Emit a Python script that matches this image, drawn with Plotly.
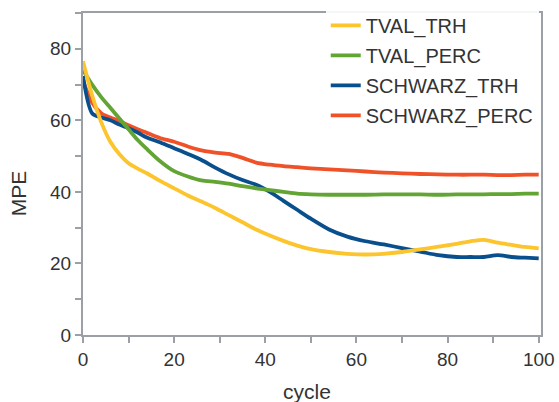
import plotly.graph_objects as go

cycle = [0, 2, 4, 6, 8, 10, 12, 14, 17, 20, 23, 26, 29, 32, 35, 38, 41, 44, 47, 50,
         54, 58, 62, 66, 70, 74, 78, 82, 85, 88, 91, 94, 97, 100]

tval_trh = [76.5, 67, 59.5, 54, 50.5, 48, 46.5, 45.2, 43, 41, 39, 37.3, 35.5, 33.5, 31.5,
            29.5, 27.8, 26.3, 25, 24, 23.2, 22.7, 22.5, 22.7, 23.2, 23.9, 24.7, 25.5,
            26.2, 26.6, 25.8, 25.2, 24.6, 24.2]
tval_perc = [74, 70, 66.5, 63.5, 60.5, 57.5, 54.5, 52, 48.5, 45.8, 44.3, 43.2, 42.8, 42.3,
             41.6, 41, 40.5, 40, 39.5, 39.3, 39.2, 39.2, 39.2, 39.3, 39.3, 39.3, 39.2,
             39.3, 39.3, 39.3, 39.4, 39.4, 39.5, 39.5]
schwarz_trh = [72.4, 62, 60.8, 60, 58.8, 57.8, 56.6, 55.2, 53.8, 52.2, 50.6, 48.9, 46.8,
               44.9, 43.3, 42, 40, 37.5, 35, 32.5, 29.5, 27.5, 26.2, 25.3, 24.3, 23.3,
               22.3, 21.8, 21.8, 21.8, 22.3, 21.8, 21.6, 21.4]
schwarz_perc = [71, 65, 62, 60.8, 59.8, 58.6, 57.5, 56.5, 55, 54, 52.7, 51.6, 51, 50.6,
                49.5, 48.2, 47.6, 47.2, 46.9, 46.6, 46.3, 46, 45.7, 45.4, 45.2, 45, 44.9,
                44.8, 44.8, 44.8, 44.7, 44.7, 44.8, 44.8]

series = [
    ("SCHWARZ_PERC", schwarz_perc, "#ef5228", 4),
    ("SCHWARZ_TRH", schwarz_trh, "#0a4f8d", 3),
    ("TVAL_PERC", tval_perc, "#62a534", 2),
    ("TVAL_TRH", tval_trh, "#fcc42d", 1),
]

fig = go.Figure()
for name, vals, color, rank in series:
    fig.add_trace(go.Scatter(
        x=cycle, y=vals, name=name, mode="lines",
        line=dict(color=color, width=3.8, shape="spline", smoothing=0.8),
        legendrank=rank, legendgroup=name,
    ))

axis_common = dict(
    showgrid=False, zeroline=False, showline=True, linecolor="#9aa0a6", linewidth=2,
    mirror=True, ticks="outside", ticklen=6, tickwidth=2, tickcolor="#9aa0a6",
    tickfont=dict(size=19, color="#333333"), automargin=False,
    minor=dict(ticks="outside", ticklen=6, tickwidth=2, tickcolor="#9aa0a6", dtick=10),
)

fig.update_layout(
    width=559, height=402,
    margin=dict(l=83, r=18, t=13, b=67, autoexpand=False),
    paper_bgcolor="white", plot_bgcolor="white",
    font=dict(family="Liberation Sans, Arial, sans-serif", color="#333333"),
    xaxis=dict(range=[0, 100.5], dtick=20, tick0=0, **axis_common),
    yaxis=dict(range=[0, 90], dtick=20, tick0=0, **axis_common),
    legend=dict(x=0.530, y=1.022, xanchor="left", yanchor="top",
                font=dict(size=20, color="#333333"), bgcolor="rgba(255,255,255,0.9)",
                traceorder="grouped", tracegroupgap=1, itemwidth=30),
    showlegend=True,
    annotations=[
        dict(text="cycle", xref="paper", yref="paper", x=0.49, y=0,
             xanchor="center", yanchor="middle", yshift=-56, showarrow=False,
             font=dict(size=21, color="#333333")),
        dict(text="MPE", xref="paper", yref="paper", x=0, y=0.44,
             xanchor="center", yanchor="middle", xshift=-65, textangle=-90,
             showarrow=False, font=dict(size=21, color="#333333")),
    ],
)

fig.write_html("out.html")
